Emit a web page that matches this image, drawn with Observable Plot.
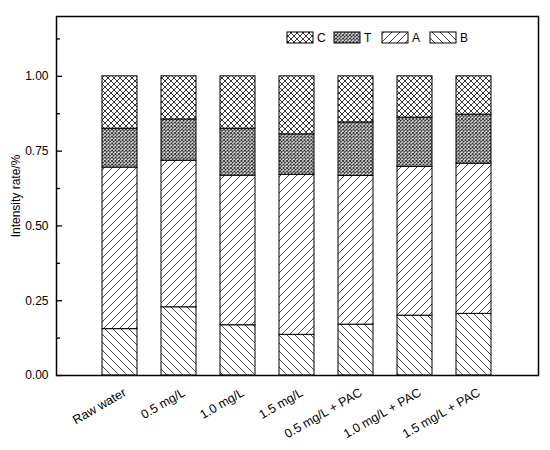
<!DOCTYPE html>
<html>
<head>
<meta charset="utf-8">
<script src="https://cdn.jsdelivr.net/npm/d3@7"></script>
<script src="https://cdn.jsdelivr.net/npm/@observablehq/plot@0.6"></script>
<style>
  html, body { margin: 0; padding: 0; background: #fff; }
  #chart { position: relative; width: 550px; height: 450px; }
</style>
</head>
<body>
<div id="chart"></div>
<script>
// ---- data ----
const categories = ["Raw water", "0.5 mg/L", "1.0 mg/L", "1.5 mg/L", "0.5 mg/L + PAC", "1.0 mg/L + PAC", "1.5 mg/L + PAC"];
const seriesNames = ["B", "A", "T", "C"];          // bottom to top
const legendOrder = ["C", "T", "A", "B"];
const B = [0.155, 0.228, 0.168, 0.136, 0.170, 0.200, 0.206];
const A = [0.540, 0.490, 0.500, 0.535, 0.497, 0.497, 0.502];
const T = [0.130, 0.138, 0.157, 0.135, 0.179, 0.165, 0.164];
const C = [0.175, 0.144, 0.175, 0.194, 0.154, 0.138, 0.128];
const majorTicks = [0, 0.25, 0.5, 0.75, 1.0];
const minorTicks = [0.125, 0.375, 0.625, 0.875, 1.125];
const yLabel = "Intensity rate/%";

const valuesBySeries = {B, A, T, C};
const table = [];
categories.forEach((cat, i) => {
  seriesNames.forEach(s => table.push({cat, series: s, value: valuesBySeries[s][i]}));
});
const patternIds = {C: "pC", T: "pT", A: "pA", B: "pB"};

const font = "'Liberation Sans', Arial, sans-serif";

const svg = Plot.plot({
  width: 550,
  height: 450,
  marginLeft: 56,
  marginRight: 12,
  marginTop: 16,
  marginBottom: 75,
  style: {fontFamily: font, fontSize: "12px", color: "#000", background: "#fff"},
  x: {domain: categories, paddingInner: 0.4, paddingOuter: 0.72, label: null},
  y: {domain: [0, 1.2], label: null},
  color: {type: "ordinal", domain: legendOrder, range: legendOrder.map(s => `url(#${patternIds[s]})`)},
  marks: [
    Plot.barY(table, {x: "cat", y: "value", fill: "series", stroke: "#000", strokeWidth: 1}),
    Plot.axisY(majorTicks, {tickSize: 0, tickPadding: 8, tickFormat: d3.format(".2f"), fontSize: 12,
      label: yLabel, labelAnchor: "center", labelArrow: "none", labelOffset: 45}),
    Plot.axisY(majorTicks, {tickSize: -6, fill: "none", label: null, strokeWidth: 1.3}),
    Plot.axisY(minorTicks, {tickSize: -4, fill: "none", label: null, strokeWidth: 1.3}),
    Plot.axisX({tickSize: 0, tickRotate: -30, tickPadding: 16, dx: 5, fontSize: 12.5, label: null}),
    Plot.frame({stroke: "#000", strokeWidth: 1.5})
  ]
});

// pattern definitions
const defs = d3.select(svg).insert("defs", ":first-child");
function addPattern(id, size, d, sw, color) {
  const p = defs.append("pattern").attr("id", id).attr("patternUnits", "userSpaceOnUse")
    .attr("width", size).attr("height", size);
  p.append("rect").attr("width", size).attr("height", size).attr("fill", "#fff");
  p.append("path").attr("d", d).attr("stroke", color).attr("stroke-width", sw).attr("fill", "none");
}
addPattern("pC", 6, "M0,0L6,6M6,0L0,6", 0.9, "#222");
addPattern("pT", 3.5, "M0,0L3.5,3.5M3.5,0L0,3.5", 0.9, "#222");
addPattern("pA", 8, "M0,8L8,0M-2,2L2,-2M6,10L10,6", 0.9, "#333");
addPattern("pB", 8, "M0,0L8,8M-2,6L2,10M6,-2L10,2", 0.9, "#333");

// legend (inside the frame, top)
const legendX = [287, 334, 382, 430];
const lg = d3.select(svg).append("g").attr("font-family", font).attr("font-size", 12)
  .attr("text-anchor", "start");
legendOrder.forEach((s, i) => {
  lg.append("rect").attr("x", legendX[i]).attr("y", 32).attr("width", 26).attr("height", 11)
    .attr("fill", `url(#${patternIds[s]})`).attr("stroke", "#000").attr("stroke-width", 1);
  lg.append("text").attr("x", legendX[i] + 30).attr("y", 42).attr("fill", "#000")
    .attr("text-anchor", "start").text(s);
});

document.getElementById("chart").appendChild(svg);
</script>
</body>
</html>
